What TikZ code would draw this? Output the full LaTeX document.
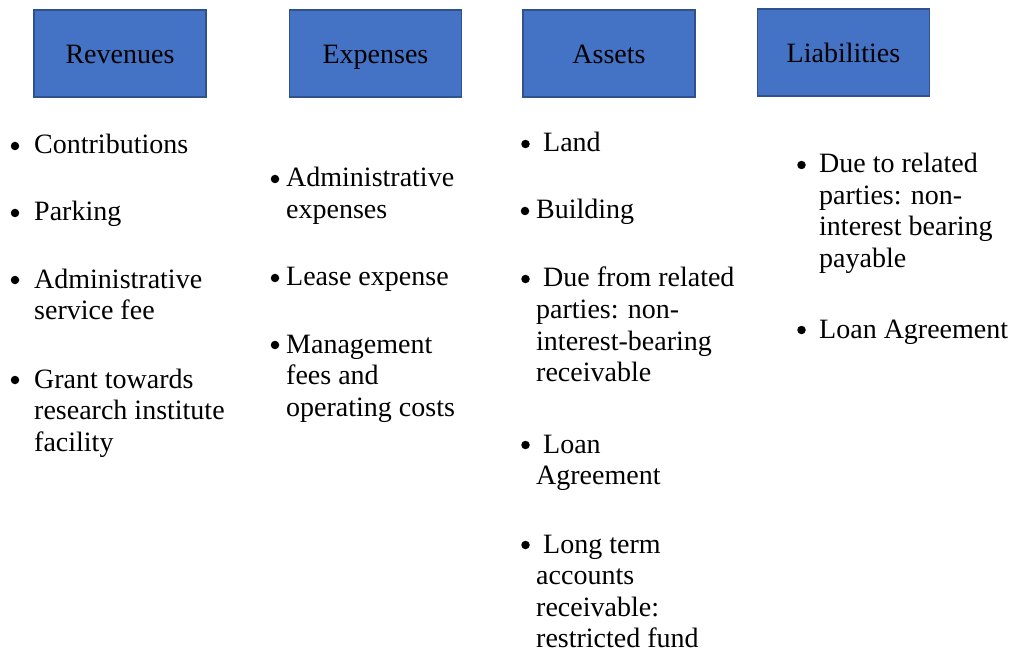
\documentclass[tikz,border=0pt]{standalone}
\usepackage{fontspec}
\setmainfont{Liberation Serif}
\definecolor{boxfill}{HTML}{4472C4}
\definecolor{boxline}{HTML}{2F528F}
\newcommand{\lns}[1]{\begin{tabular}[t]{@{}l@{}}#1\end{tabular}}
\begin{document}
\begin{tikzpicture}[x=1pt,y=-1pt,
  hdr/.style={draw=boxline, fill=boxfill, line width=1.5pt, minimum width=172pt, minimum height=87pt,
    inner sep=0pt, text height=21pt, text depth=0pt, font=\fontsize{28}{31.5}\selectfont},
  itm/.style={anchor=base west, inner sep=0pt, font=\fontsize{28}{31.5}\selectfont},
  bul/.style={circle, fill=black, inner sep=0pt, minimum size=8.5pt, yshift=8pt}]
\useasboundingbox[fill=white] (0,0) rectangle (1014,652);
% headers
\node[hdr] (rev) at (120,53.5) {Revenues};
\node[hdr] (exp) at (375.5,53.5) {Expenses};
\node[hdr] (ast) at (609,53.5) {Assets};
\node[hdr] (lia) at (843.5,52.5) {Liabilities};
% Revenues
\node[bul] (rb1) at (15,154) {};
\node[itm] (r1) at (34,154) {Contributions};
\node[bul] (rb2) at (15,221) {};
\node[itm] (r2) at (34,221) {Parking};
\node[bul] (rb3) at (15,288) {};
\node[itm] (r3) at (34,288) {\lns{Administrative\\service fee}};
\node[bul] (rb4) at (15,388) {};
\node[itm] (r4) at (34,388) {\lns{Grant towards\\research institute\\facility}};
% Expenses
\node[bul] (eb1) at (275,187) {};
\node[itm] (e1) at (286,187) {\lns{Administrative\\expenses}};
\node[bul] (eb2) at (275,286) {};
\node[itm] (e2) at (286,286) {Lease expense};
\node[bul] (eb3) at (275,353) {};
\node[itm] (e3) at (286,353) {\lns{Management\\fees and\\operating costs}};
% Assets
\node[bul] (ab1) at (525.5,152) {};
\node[itm] (a1) at (543,152) {Land};
\node[bul] (ab2) at (525,219) {};
\node[itm] (a2) at (536,219) {Building};
\node[bul] (ab3) at (525.5,287) {};
\node[itm] (a3) at (543,287) {Due from related};
\node[itm] (a3b) at (536,318.5) {\lns{parties: non-\\interest-bearing\\receivable}};
\node[bul] (ab4) at (525.5,453) {};
\node[itm] (a4) at (543,453) {Loan};
\node[itm] (a4b) at (536,484.5) {Agreement};
\node[bul] (ab5) at (525.5,553) {};
\node[itm] (a5) at (543,553) {Long term};
\node[itm] (a5b) at (536,584.5) {\lns{accounts\\receivable:\\restricted fund}};
% Liabilities
\node[bul] (lb1) at (801.5,173) {};
\node[itm] (l1) at (819,173) {\lns{Due to related\\parties: non-\\interest bearing\\payable}};
\node[bul] (lb2) at (801.5,338) {};
\node[itm] (l2) at (819,338) {Loan Agreement};
\end{tikzpicture}
\end{document}
